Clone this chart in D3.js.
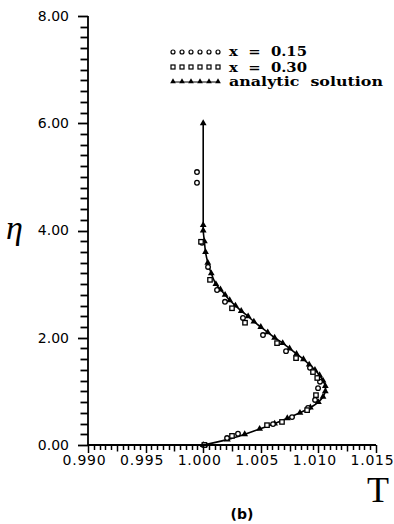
<!DOCTYPE html>
<html><head><meta charset="utf-8">
<script src="https://cdn.jsdelivr.net/npm/d3@7"></script>
<style>body{margin:0;background:#fff}svg{display:block}</style>
</head><body>
<script>
// ---- data ----
const analyticEta = [0.0,0.1,0.2,0.3,0.4,0.5,0.6,0.7,0.8,0.9,1.0,1.1,1.2,1.3,1.4,1.5,1.6,1.7,1.8,1.9,2.0,2.1,2.2,2.3,2.4,2.5,2.6,2.7,2.8,2.9,3.0,3.2,3.4,3.6,3.8,4.0,4.1,6.0];
const analyticT   = [1.0000,1.0021,1.0036,1.0049,1.0062,1.0073,1.0084,1.0093,1.0100,1.0104,1.0106,1.0106,1.0104,1.0101,1.0097,1.0092,1.0087,1.0081,1.0075,1.0069,1.0062,1.0056,1.0050,1.0044,1.0039,1.0033,1.0028,1.0023,1.0019,1.0015,1.0011,1.0007,1.0004,1.0002,1.0001,1.0000,1.0000,1.0000];
const x015Eta = [5.09,4.89,3.77,3.32,2.89,2.67,2.37,2.05,1.75,1.44,1.18,1.06,0.84,0.69,0.52,0.39,0.21,0.13,0.0];
const x015T   = [0.99946,0.99946,0.99990,1.00042,1.00120,1.00189,1.00345,1.00519,1.00719,1.00927,1.01014,1.00997,1.00971,1.00910,1.00771,1.00606,1.00302,1.00207,1.00016];
const x030Eta = [3.79,3.08,2.55,2.28,1.90,1.62,1.36,1.25,0.93,0.65,0.43,0.37,0.17,0.0];
const x030T   = [0.99981,1.00059,1.00250,1.00363,1.00641,1.00806,1.00953,1.00990,1.00979,1.00902,1.00684,1.00554,1.00250,1.00010];
const xMajorTicks = [0.990,0.995,1.000,1.005,1.010,1.015];
const yMajorTicks = [0,2,4,6,8];
const legendLabels = ["x  =  0.15","x  =  0.30","analytic  solution"];

const W=394,H=524;
const svg=d3.select("body").append("svg").attr("width",W).attr("height",H);
svg.append("rect").attr("width",W).attr("height",H).attr("fill","#fff");
const x=d3.scaleLinear().domain([0.990,1.015]).range([88,376]);
const y=d3.scaleLinear().domain([0,8]).range([445,16]);

const tickFont='"DejaVu Sans", sans-serif';

// axes with labels
svg.append("g").attr("transform","translate(0,445)")
  .call(d3.axisBottom(x).tickValues(xMajorTicks).tickSize(0).tickSizeOuter(0).tickPadding(10).tickFormat(d3.format(".3f")))
  .call(g=>g.select(".domain").remove())
  .call(g=>g.selectAll("line").remove())
  .call(g=>g.selectAll("text").attr("font-family",tickFont).attr("font-size",14).attr("letter-spacing","0.8px").attr("dx",-4).attr("fill","#000"));
svg.append("g").attr("transform","translate(88,0)")
  .call(d3.axisLeft(y).tickValues(yMajorTicks).tickSize(0).tickSizeOuter(0).tickPadding(19).tickFormat(d3.format(".2f")))
  .call(g=>g.select(".domain").remove())
  .call(g=>g.selectAll("line").remove())
  .call(g=>g.selectAll("text").attr("font-family",tickFont).attr("font-size",14).attr("fill","#000"));

// analytic line
const ana=analyticEta.map((e,i)=>({e,t:analyticT[i]}));
svg.append("path").datum(ana)
  .attr("d",d3.line().x(d=>x(d.t)).y(d=>y(d.e)).curve(d3.curveCatmullRom))
  .attr("fill","none").attr("stroke","#000").attr("stroke-width",1.6);
const tri=d3.symbol().type(d3.symbolTriangle).size(20);
svg.append("g").selectAll("path").data(ana).join("path")
  .attr("d",tri).attr("transform",d=>`translate(${x(d.t)},${y(d.e)})`).attr("fill","#000");

// x=0.15 circles
svg.append("g").selectAll("circle").data(x015Eta.map((e,i)=>({e,t:x015T[i]}))).join("circle")
  .attr("cx",d=>x(d.t)).attr("cy",d=>y(d.e)).attr("r",2.3)
  .attr("fill","#fff").attr("stroke","#000").attr("stroke-width",1.3);
// x=0.30 squares
svg.append("g").selectAll("rect").data(x030Eta.map((e,i)=>({e,t:x030T[i]}))).join("rect")
  .attr("x",d=>x(d.t)-2.2).attr("y",d=>y(d.e)-2.2).attr("width",4.4).attr("height",4.4)
  .attr("fill","#fff").attr("stroke","#000").attr("stroke-width",1.3);

// legend
const lx=d3.range(6).map(i=>173+i*9);
const leg=svg.append("g");
leg.selectAll("circle").data(lx).join("circle").attr("cx",d=>d).attr("cy",52).attr("r",2)
  .attr("fill","#fff").attr("stroke","#000").attr("stroke-width",1.2);
leg.selectAll("rect").data(lx).join("rect").attr("x",d=>d-2).attr("y",65).attr("width",4).attr("height",4)
  .attr("fill","#fff").attr("stroke","#000").attr("stroke-width",1.2);
leg.append("line").attr("x1",172).attr("x2",219).attr("y1",82).attr("y2",82).attr("stroke","#000").attr("stroke-width",1.2);
leg.selectAll("path").data(lx).join("path").attr("d",d3.symbol().type(d3.symbolTriangle).size(14))
  .attr("transform",d=>`translate(${d},81.5)`).attr("fill","#000");
const legW=[78,78,154], legY=[56,72,86];
leg.selectAll("text").data(legendLabels).join("text")
  .attr("x",229).attr("y",(d,i)=>legY[i]).text(d=>d)
  .style("white-space","pre")
  .attr("textLength",(d,i)=>legW[i]).attr("lengthAdjust","spacingAndGlyphs")
  .attr("font-family",'"DejaVu Serif", serif').attr("font-weight","bold").attr("font-size",13).attr("fill","#000");

// axis titles
svg.append("text").attr("x",6).attr("y",239).text("η")
  .attr("font-family",'"Liberation Serif", serif').attr("font-style","italic").attr("font-size",34).attr("fill","#000");
svg.append("text").attr("x",367).attr("y",502).text("T")
  .attr("font-family",'"Liberation Serif", serif').attr("font-size",36).attr("fill","#000");
svg.append("text").attr("x",242).attr("y",519).attr("text-anchor","middle").text("(b)")
  .attr("font-family",tickFont).attr("font-weight","bold").attr("font-size",14).attr("fill","#000");

// ticks and axis lines drawn last, through the scales
const xMinor=d3.range(0,51).map(i=>0.990+i*0.0005);
const yMinor=d3.range(0,41).map(i=>i*0.2);
const ax=svg.append("g").attr("class","axis-lines");
ax.append("g").selectAll("line").data(xMinor).join("line")
  .attr("x1",d=>Math.round(x(d))+0.5).attr("x2",d=>Math.round(x(d))+0.5)
  .attr("y1",y(0)).attr("y2",(d,i)=>y(0)+(i%10===0?8:(i%5===0?6.5:5)))
  .attr("stroke","#000").attr("stroke-width",1.5);
ax.append("g").selectAll("line").data(yMinor).join("line")
  .attr("y1",d=>Math.round(y(d))+0.5).attr("y2",d=>Math.round(y(d))+0.5)
  .attr("x1",x(0.990)).attr("x2",(d,i)=>x(0.990)-(i%10===0?10:7.5))
  .attr("stroke","#000").attr("stroke-width",1.8);
ax.append("line").attr("x1",x(0.990)).attr("x2",x(0.990)).attr("y1",y(8)).attr("y2",y(0))
  .attr("stroke","#000").attr("stroke-width",1.8);
ax.append("line").attr("x1",x(0.990)).attr("x2",x(1.015)).attr("y1",y(0)).attr("y2",y(0))
  .attr("stroke","#000").attr("stroke-width",1.8);
</script>
</body></html>
